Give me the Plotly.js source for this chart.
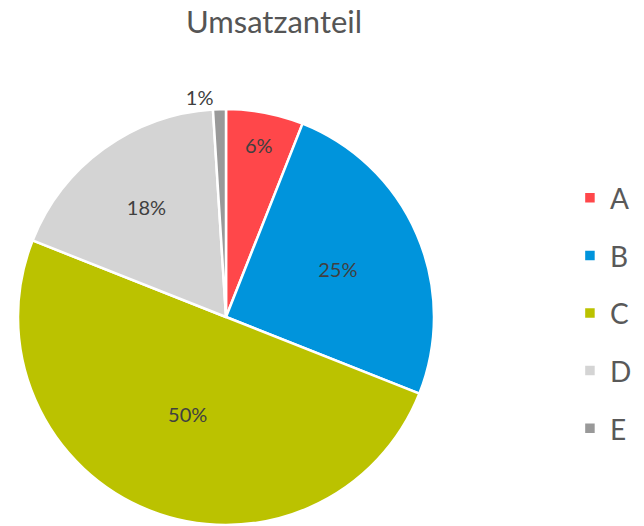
<!DOCTYPE html>
<html><head><meta charset="utf-8">
<script src="https://cdn.plot.ly/plotly-3.0.1.min.js"></script>
<style>body{margin:0;background:#fff}#c{width:644px;height:526px}</style>
</head><body><div id="c"></div>
<script>
const categories = ['A','B','C','D','E'];
const shares = [6, 25, 50, 18, 1];
const colors = ['#FF474A','#0094DC','#BBC200','#D4D4D4','#999999'];
const textPositions = ['inside','inside','inside','inside','outside'];

const trace = {
  type: 'pie',
  labels: categories.map(c => '<span style="font-size:28px;baseline-shift:5px">' + c + '</span>'),
  values: shares,
  sort: false,
  direction: 'clockwise',
  rotation: 0,
  marker: {colors: colors, line: {color: '#ffffff', width: 2.5}},
  textinfo: 'percent',
  texttemplate: '%{percent:.0%}',
  textposition: textPositions,
  insidetextorientation: 'horizontal',
  textfont: {family: 'Lato, sans-serif', size: 20, color: '#404040'},
  domain: {x: [18/644, 434/644], y: [1/526, 417/526]},
  hoverinfo: 'label+percent'
};

const layout = {
  width: 644, height: 526,
  margin: {l: 0, r: 0, t: 0, b: 0},
  paper_bgcolor: '#ffffff',
  font: {family: 'Lato, sans-serif', color: '#595959'},
  title: {text: 'Umsatzanteil', x: 274/644, xanchor: 'center', y: 1 - 22/526, yanchor: 'middle',
          font: {family: 'Lato, sans-serif', size: 31, color: '#555555'}},
  showlegend: true,
  legend: {x: 0.885, xanchor: 'left', y: 1 - 313/526, yanchor: 'middle',
           font: {family: 'Lato, sans-serif', size: 42, color: '#595959'}}
};

Plotly.newPlot('c', [trace], layout, {displayModeBar: false, staticPlot: true});
</script></body></html>
